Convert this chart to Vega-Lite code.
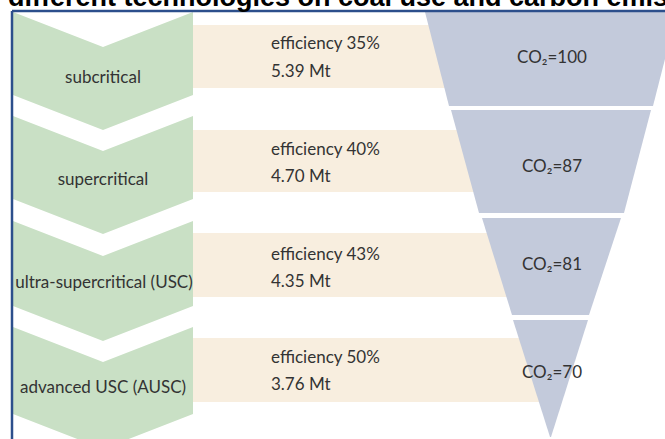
{
  "$schema": "https://vega.github.io/schema/vega-lite/v6.json",
  "width": 665,
  "height": 439,
  "autosize": {"type": "fit", "contains": "padding"},
  "padding": 0,
  "background": "#ffffff",
  "config": {"view": {"stroke": null}},
  "datasets": {
    "chevrons": [
      {"id": 1, "x": 13, "top": 12, "bot": 95},
      {"id": 1, "x": 103, "top": 47, "bot": 130},
      {"id": 1, "x": 193, "top": 12, "bot": 95},
      {"id": 2, "x": 13, "top": 116, "bot": 199},
      {"id": 2, "x": 103, "top": 151, "bot": 234},
      {"id": 2, "x": 193, "top": 116, "bot": 199},
      {"id": 3, "x": 13, "top": 221, "bot": 306},
      {"id": 3, "x": 103, "top": 256, "bot": 341},
      {"id": 3, "x": 193, "top": 221, "bot": 306},
      {"id": 4, "x": 13, "top": 327, "bot": 414},
      {"id": 4, "x": 103, "top": 362, "bot": 449},
      {"id": 4, "x": 193, "top": 327, "bot": 414}
    ],
    "bands": [
      {"x": 193, "x2": 551, "y": 25, "y2": 88},
      {"x": 193, "x2": 551, "y": 130, "y2": 192},
      {"x": 193, "x2": 551, "y": 233, "y2": 297},
      {"x": 193, "x2": 551, "y": 338, "y2": 402}
    ],
    "funnel": [
      {"seg": 1, "x": 425, "top": 12, "bot": 12},
      {"seg": 1, "x": 449, "top": 12, "bot": 106},
      {"seg": 1, "x": 653, "top": 12, "bot": 106},
      {"seg": 1, "x": 677, "top": 12, "bot": 12},
      {"seg": 2, "x": 451, "top": 110, "bot": 110},
      {"seg": 2, "x": 479, "top": 110, "bot": 213},
      {"seg": 2, "x": 624, "top": 110, "bot": 213},
      {"seg": 2, "x": 651, "top": 110, "bot": 110},
      {"seg": 3, "x": 482, "top": 218, "bot": 218},
      {"seg": 3, "x": 512, "top": 218, "bot": 315},
      {"seg": 3, "x": 589, "top": 218, "bot": 315},
      {"seg": 3, "x": 621, "top": 218, "bot": 218},
      {"seg": 4, "x": 513, "top": 320, "bot": 320},
      {"seg": 4, "x": 550, "top": 320, "bot": 437},
      {"seg": 4, "x": 551, "top": 320, "bot": 437},
      {"seg": 4, "x": 588, "top": 320, "bot": 320}
    ],
    "border": [
      {"x": 12, "y": 11, "x2": 665, "y2": 11},
      {"x": 12, "y": 11, "x2": 12, "y2": 439}
    ],
    "centerText": [
      {"t": "subcritical", "x": 103, "y": 78},
      {"t": "supercritical", "x": 103, "y": 180},
      {"t": "ultra-supercritical (USC)", "x": 104, "y": 283},
      {"t": "advanced USC (AUSC)", "x": 103, "y": 388},
      {"t": "CO₂=100", "x": 552, "y": 58},
      {"t": "CO₂=87", "x": 552, "y": 167},
      {"t": "CO₂=81", "x": 552, "y": 265},
      {"t": "CO₂=70", "x": 552, "y": 373}
    ],
    "leftText": [
      {"t": "efficiency 35%", "x": 271, "y": 44},
      {"t": "5.39 Mt", "x": 271, "y": 72},
      {"t": "efficiency 40%", "x": 271, "y": 150},
      {"t": "4.70 Mt", "x": 271, "y": 177},
      {"t": "efficiency 43%", "x": 271, "y": 255},
      {"t": "4.35 Mt", "x": 271, "y": 282},
      {"t": "efficiency 50%", "x": 271, "y": 358},
      {"t": "3.76 Mt", "x": 271, "y": 385}
    ],
    "title": [
      {"t": "different technologies on coal use and carbon emissions", "x": 8, "y": 6}
    ]
  },
  "layer": [
    {
      "data": {"name": "bands"},
      "mark": {"type": "rect", "color": "#F8EEDF"},
      "encoding": {
        "x": {"field": "x", "type": "quantitative", "scale": {"domain": [0, 665], "nice": false, "zero": false}, "axis": null},
        "x2": {"field": "x2"},
        "y": {"field": "y", "type": "quantitative", "scale": {"domain": [0, 439], "nice": false, "zero": false, "reverse": true}, "axis": null},
        "y2": {"field": "y2"}
      }
    },
    {
      "data": {"name": "chevrons"},
      "mark": {"type": "area", "color": "#C9E0C5", "clip": true, "orient": "vertical"},
      "encoding": {
        "x": {"field": "x", "type": "quantitative"},
        "y": {"field": "top", "type": "quantitative"},
        "y2": {"field": "bot"},
        "detail": {"field": "id"}
      }
    },
    {
      "data": {"name": "funnel"},
      "mark": {"type": "area", "color": "#C3CADB", "clip": true, "orient": "vertical"},
      "encoding": {
        "x": {"field": "x", "type": "quantitative"},
        "y": {"field": "top", "type": "quantitative"},
        "y2": {"field": "bot"},
        "detail": {"field": "seg"}
      }
    },
    {
      "data": {"name": "border"},
      "mark": {"type": "rule", "color": "#2C4F8C", "strokeWidth": 2.5, "clip": true},
      "encoding": {
        "x": {"field": "x", "type": "quantitative"},
        "x2": {"field": "x2"},
        "y": {"field": "y", "type": "quantitative"},
        "y2": {"field": "y2"}
      }
    },
    {
      "data": {"name": "centerText"},
      "mark": {"type": "text", "align": "center", "baseline": "middle", "font": "Lato", "fontSize": 17, "color": "#333333"},
      "encoding": {
        "x": {"field": "x", "type": "quantitative"},
        "y": {"field": "y", "type": "quantitative"},
        "text": {"field": "t"}
      }
    },
    {
      "data": {"name": "leftText"},
      "mark": {"type": "text", "align": "left", "baseline": "middle", "font": "Lato", "fontSize": 17, "color": "#333333"},
      "encoding": {
        "x": {"field": "x", "type": "quantitative"},
        "y": {"field": "y", "type": "quantitative"},
        "text": {"field": "t"}
      }
    },
    {
      "data": {"name": "title"},
      "mark": {"type": "text", "align": "left", "baseline": "alphabetic", "font": "Liberation Sans", "fontWeight": "bold", "fontSize": 27, "color": "#000000", "clip": true},
      "encoding": {
        "x": {"field": "x", "type": "quantitative"},
        "y": {"field": "y", "type": "quantitative"},
        "text": {"field": "t"}
      }
    }
  ]
}
